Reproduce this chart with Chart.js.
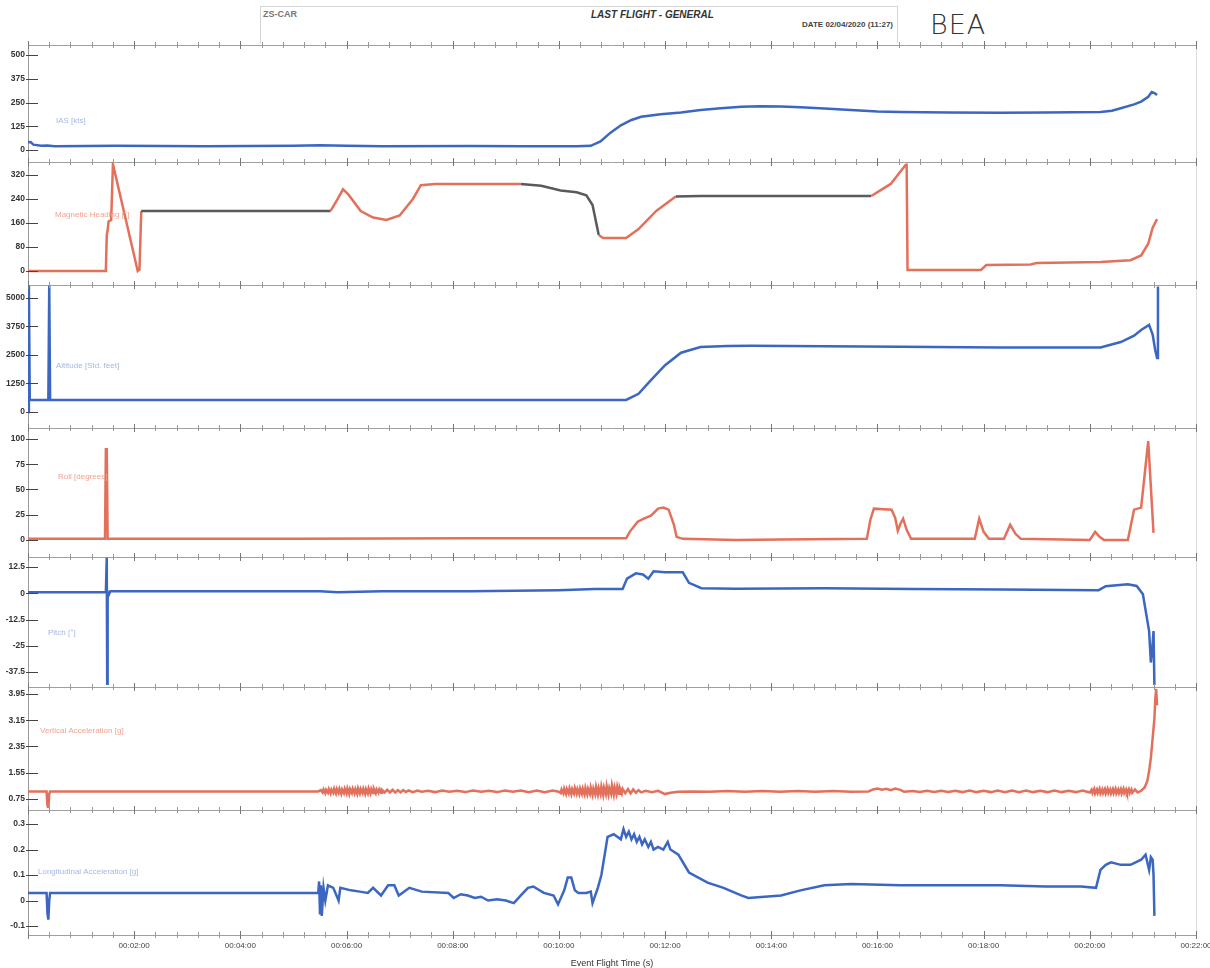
<!DOCTYPE html>
<html>
<head>
<meta charset="utf-8">
<title>ZS-CAR - Last flight - General</title>
<script src="https://cdn.jsdelivr.net/npm/chart.js@4.4.1/dist/chart.umd.min.js"></script>
<style>
  html, body { margin: 0; padding: 0; background: #fff; }
  body { width: 1210px; height: 968px; position: relative; overflow: hidden;
         font-family: 'Liberation Sans', Arial, sans-serif; }
  .panel { position: absolute; left: 0; width: 1210px; }
  .hdr { position: absolute; left: 260px; top: 6px; width: 636px; height: 36px;
         border: 1px solid #d4d4d4; border-bottom: none; }
  .hdr .reg { position: absolute; left: 2px; top: 2px; font-size: 9px; font-weight: bold; color: #777; }
  .hdr .ttl { position: absolute; left: 330px; top: 2px;
              font-size: 10px; font-weight: bold; font-style: italic; color: #333; }
  .hdr .date { position: absolute; right: 4px; top: 13px; font-size: 8px; font-weight: bold; color: #444; }
  .bea { position: absolute; left: 930px; top: 9px; font-family: 'DejaVu Sans', sans-serif;
         font-weight: 200; font-size: 27px; color: #333; letter-spacing: 1px; }
</style>
</head>
<body>

<div class="hdr">
  <div class="reg">ZS-CAR</div>
  <div class="ttl">LAST FLIGHT - GENERAL</div>
  <div class="date">DATE 02/04/2020 (11:27)</div>
</div>
<div class="bea">BEA</div>

<script>
// ── Data (time in seconds of flight, value) ──
var TIME_TICKS = [120, 240, 360, 480, 600, 720, 840, 960, 1080, 1200, 1320];

var IAS_TICKS = [0, 125, 250, 375, 500];
var HDG_TICKS = [0, 80, 160, 240, 320];
var ALT_TICKS = [0, 1250, 2500, 3750, 5000];
var ROLL_TICKS = [0, 25, 50, 75, 100];
var PITCH_TICKS = [-37.5, -25, -12.5, 0, 12.5];
var VACC_TICKS = [0.75, 1.55, 2.35, 3.15, 3.95];
var LACC_TICKS = [-0.1, 0, 0.1, 0.2, 0.3];

var IAS = [[0,40],[3,42],[6,28],[15,22],[22,24],[30,20],[100,22],[200,20],[300,22],[330,25],[360,22],[400,20],
  [500,21],[560,20],[620,20],[636,22],[647,45],[658,90],[670,130],[682,158],[693,175],[715,188],[738,197],
  [760,210],[783,220],[806,228],[828,230],[851,229],[873,225],[900,218],[930,210],[960,203],[986,200],
  [1040,197],[1099,196],[1150,197],[1212,200],[1225,207],[1235,220],[1250,240],[1258,255],[1266,280],
  [1270,305],[1273,300],[1276,290]];

var HEADING = [[0,0],[88,0],[89,120],[90,135],[91,165],[94,170],[96,356],[124,0],[126,5],[128,200],
  [342,200],[350,240],[356,272],[362,255],[376,200],[390,178],[405,170],[420,185],[435,240],[444,286],
  [460,290],[557,290],[580,284],[602,268],[620,262],[631,252],[638,220],[645,120],[650,110],[676,110],
  [690,140],[710,200],[732,248],[760,250],[953,250],[975,290],[992,354],[993,354],[994,4],[1040,4],
  [1077,4],[1083,20],[1133,22],[1140,27],[1212,30],[1246,36],[1258,52],[1266,91],[1271,144],[1276,173]];

var ALTITUDE = [[0,0],[1,5550],[2,530],[23,530],[24,5550],[25,530],[200,530],[400,530],[676,530],[690,800],
  [704,1400],[720,2050],[738,2600],[760,2850],[790,2900],[817,2910],[900,2880],[986,2860],[1099,2830],
  [1212,2830],[1235,3070],[1250,3350],[1258,3600],[1267,3820],[1271,3400],[1274,2700],[1276,2370],[1277,5500]];

var ROLL = [[0,1],[87,1],[88,90],[89,90],[90,1],[300,1],[500,1.5],[676,1.5],[680,8],[689,18],[696,21],
  [704,24],[712,31],[718,32],[724,30],[730,15],[733,3],[740,1],[800,0],[850,0.5],[948,1],[952,20],
  [956,31],[976,30],[980,22],[983,9],[986,16],[989,21],[993,10],[998,1],[1070,1],[1075,21],[1080,8],
  [1086,1],[1103,1],[1110,15],[1116,6],[1122,1],[1200,0],[1206,8],[1211,3],[1216,0],[1243,0],[1250,30],
  [1258,32],[1266,98],[1272,7]];

var PITCH = [[0,0.5],[88,0.5],[89,17],[89.5,-44],[90,0.5],[91,-1],[93,1],[200,1],[330,1],[350,0.5],
  [400,1],[500,1],[600,1.5],[640,2],[672,2],[677,7],[687,9.5],[695,9],[701,7],[707,10.5],[720,10],
  [740,10],[747,5],[761,2.4],[800,2.2],[900,2.4],[1000,2],[1100,1.8],[1210,1.5],[1218,3.4],[1243,4.3],
  [1253,3.5],[1260,-0.5],[1267,-18],[1269,-33],[1271,-24],[1272,-18],[1273,-44]];

var VERT_ACC = [[0,0.98],[21,0.98],[22,0.55],[23,0.47],[24,0.9],[25,0.98],[100,0.98],[200,0.98],[300,0.98],
  [328,0.98],[331,1.02],[333,0.95],[334,1.04],[336,0.93],[337,1.03],[339,0.94],[340,1.05],[342,0.92],
  [343,1.04],[345,0.94],[346,1.06],[348,0.92],[349,1.05],[351,0.93],[352,1.06],[354,0.91],[355,1.04],
  [357,0.93],[358,1.06],[360,0.92],[361,1.07],[363,0.91],[364,1.05],[366,0.93],[367,1.06],[369,0.92],
  [370,1.05],[372,0.91],[373,1.07],[375,0.92],[376,1.05],[378,0.93],[379,1.06],[381,0.91],[382,1.05],
  [384,0.92],[385,1.07],[387,0.92],[388,1.05],[390,0.93],[391,1.05],[393,0.93],[394,1.04],[396,0.94],
  [397,1.04],[399,0.94],[400,1.03],[403,0.95],[406,1.03],[409,0.95],[412,1.03],[415,0.95],[418,1.02],
  [421,0.95],[424,1.02],[427,0.96],[430,1.01],[435,0.96],[440,1.01],[445,0.97],[452,1.0],[460,0.96],
  [468,1.01],[476,0.97],[485,1.0],[494,0.96],[503,1.01],[512,0.97],[521,1.0],[530,0.96],[539,1.01],
  [548,0.97],[557,1.01],[566,0.96],[575,1.01],[584,0.96],[593,1.01],[600,0.97],[602,0.93],[603,1.04],
  [605,0.92],[606,1.06],[608,0.91],[609,1.05],[611,0.92],[612,1.07],[614,0.9],[615,1.05],[617,0.92],
  [618,1.08],[620,0.91],[621,1.05],[623,0.9],[624,1.07],[626,0.91],[627,1.06],[629,0.89],[630,1.09],
  [632,0.9],[633,1.06],[635,0.91],[636,1.1],[638,0.88],[639,1.07],[641,0.9],[642,1.12],[644,0.89],
  [645,1.08],[647,0.9],[648,1.13],[650,0.88],[651,1.09],[653,0.9],[654,1.14],[656,0.89],[657,1.08],
  [659,0.91],[660,1.16],[662,0.89],[663,1.1],[665,0.9],[666,1.12],[668,0.91],[669,1.07],[671,0.92],
  [672,1.06],[675,0.93],[678,1.05],[681,0.92],[684,1.04],[687,0.94],[690,1.02],[693,0.95],[698,1.0],
  [705,0.96],[712,1.0],[720,0.9],[726,0.94],[735,0.97],[750,0.98],[770,0.97],[790,0.99],[810,0.97],
  [830,0.99],[850,0.97],[870,0.99],[890,0.97],[910,0.99],[930,0.97],[950,0.98],[955,1.04],[960,1.07],
  [965,1.03],[970,1.06],[975,1.02],[980,1.07],[986,1.03],[990,0.97],[1000,0.99],[1008,0.96],[1016,1.0],
  [1024,0.96],[1032,1.0],[1040,0.96],[1048,1.0],[1056,0.96],[1064,1.01],[1072,0.96],[1080,1.0],
  [1088,0.96],[1096,1.01],[1104,0.96],[1112,1.01],[1120,0.96],[1128,1.01],[1136,0.96],[1144,1.0],
  [1152,0.96],[1160,1.01],[1168,0.96],[1176,1.0],[1184,0.96],[1192,1.01],[1200,0.95],[1202,1.03],
  [1203,0.93],[1205,1.05],[1206,0.92],[1208,1.04],[1209,0.93],[1211,1.06],[1212,0.92],[1214,1.04],
  [1215,0.93],[1217,1.05],[1218,0.92],[1220,1.06],[1221,0.93],[1223,1.04],[1224,0.92],[1226,1.05],
  [1227,0.93],[1229,1.06],[1230,0.92],[1232,1.04],[1233,0.93],[1235,1.05],[1236,0.92],[1238,1.06],
  [1239,0.93],[1241,1.04],[1242,0.94],[1244,1.05],[1245,0.93],[1247,1.04],[1248,0.94],[1251,1.04],
  [1254,0.95],[1258,1.0],[1262,1.1],[1265,1.3],[1267,1.6],[1269,2.0],[1271,2.6],[1273,3.2],[1274,3.8],
  [1275,4.1],[1276,3.6]];

var LONG_ACC = [[0,0.03],[21,0.03],[22,-0.05],[23,-0.075],[24,0.0],[25,0.03],[200,0.03],[328,0.03],
  [329,0.075],[330,-0.05],[331,0.06],[332,-0.06],[334,0.05],[336,0.0],[339,0.06],[345,0.05],[351,0.0],
  [353,0.05],[365,0.04],[375,0.035],[384,0.03],[390,0.05],[399,0.02],[407,0.06],[414,0.06],[419,0.02],
  [431,0.05],[445,0.035],[475,0.03],[481,0.01],[489,0.025],[497,0.02],[505,0.01],[512,0.015],[520,0.0],
  [530,0.005],[540,0.0],[549,-0.01],[557,0.02],[565,0.05],[571,0.055],[583,0.03],[594,0.02],[599,-0.015],
  [606,0.04],[610,0.09],[614,0.09],[618,0.04],[622,0.03],[631,0.03],[636,0.035],[638,-0.01],[644,0.05],
  [648,0.1],[655,0.25],[662,0.26],[666,0.25],[670,0.24],[673,0.28],[676,0.25],[679,0.27],[682,0.24],
  [685,0.26],[688,0.23],[691,0.25],[694,0.22],[697,0.24],[701,0.21],[704,0.23],[707,0.2],[712,0.21],
  [718,0.2],[723,0.23],[726,0.2],[735,0.18],[747,0.11],[768,0.07],[786,0.05],[806,0.02],[814,0.01],
  [851,0.02],[873,0.04],[900,0.06],[930,0.065],[986,0.06],[1040,0.06],[1099,0.06],[1150,0.055],
  [1190,0.055],[1207,0.05],[1212,0.12],[1218,0.14],[1224,0.15],[1235,0.14],[1246,0.14],[1258,0.16],
  [1263,0.18],[1267,0.12],[1269,0.17],[1271,0.16],[1272,0.1],[1273,-0.06]];

// ── Look ──
var BLUE = '#3b66c2';
var RED = '#e3705b';
var DARK = '#5a5a5a';
var FONT = "'Liberation Sans', Arial, sans-serif";

var PANELS = [
  { data: IAS, ticks: IAS_TICKS, color: BLUE, name: 'IAS [kts]', min: -53, max: 553, top: 45, bottom: 160, lx: 28, ly: 76 },
  { data: HEADING, ticks: HDG_TICKS, color: RED, name: 'Magnetic Heading [°]', min: -43, max: 363, top: 162, bottom: 284, lx: 27, ly: 53,
    dark: [[128, 342], [557, 645], [732, 953]] },
  { data: ALTITUDE, ticks: ALT_TICKS, color: BLUE, name: 'Altitude [Std. feet]', min: -614, max: 5570, top: 285, bottom: 426, lx: 28, ly: 81 },
  { data: ROLL, ticks: ROLL_TICKS, color: RED, name: 'Roll [degrees]', min: -15, max: 111, top: 428, bottom: 555, lx: 30, ly: 49 },
  { data: PITCH, ticks: PITCH_TICKS, color: BLUE, name: 'Pitch [°]', min: -43.7, max: 17.3, top: 557, bottom: 685, lx: 20, ly: 76 },
  { data: VERT_ACC, ticks: VACC_TICKS, color: RED, name: 'Vertical Acceleration [g]', min: 0.476, max: 4.16, top: 687, bottom: 808, lx: 12, ly: 44 },
  { data: LONG_ACC, ticks: LACC_TICKS, color: BLUE, name: 'Longitudinal Acceleration [g]', min: -0.135, max: 0.355, top: 810, bottom: 935, lx: 10, ly: 62 }
];

function fmtTime(s) {
  var m = Math.floor(s / 60), r = s % 60;
  return '00:' + (m < 10 ? '0' : '') + m + ':' + (r < 10 ? '0' : '') + r;
}

// series name written faintly inside the plot, right frame line,
// and the small cross-shaped tick marks of the scanned chart
var panelDecor = {
  id: 'panelDecor',
  afterDatasetsDraw: function(chart, args, opts) {
    var a = chart.chartArea, c = chart.ctx;
    c.save();
    c.lineWidth = 1;
    c.strokeStyle = '#dcdcdc';
    c.beginPath();
    c.moveTo(a.right + 0.5, a.top);
    c.lineTo(a.right + 0.5, a.bottom);
    c.stroke();

    // y tick dashes crossing the axis
    var ys = chart.scales.y;
    c.strokeStyle = '#444';
    ys.ticks.forEach(function(t) {
      var py = Math.round(ys.getPixelForValue(t.value)) + 0.5;
      c.beginPath();
      c.moveTo(a.left - 2, py);
      c.lineTo(a.left + 10, py);
      c.stroke();
    });

    // x tick crosses along the top (and bottom) rows
    ['x', 'x2'].forEach(function(id) {
      var xs = chart.scales[id];
      if (!xs) return;
      var row = id === 'x' ? a.top : a.bottom;
      xs.ticks.forEach(function(t) {
        var px = Math.round(xs.getPixelForValue(t.value)) + 0.5;
        var major = t.value % 120 === 0;
        c.strokeStyle = major ? '#777' : '#999';
        c.beginPath();
        c.moveTo(px, row - (major ? 4 : 3));
        c.lineTo(px, row + (major ? 4 : 3));
        c.stroke();
      });
    });

    c.font = '8px ' + FONT;
    c.fillStyle = opts.color;
    c.textBaseline = 'middle';
    c.fillText(opts.text, a.left + opts.x, a.top + opts.y);
    c.restore();
  }
};

PANELS.forEach(function(p, i) {
  var last = i === PANELS.length - 1;
  var bottomAxis = last ? 34 : 0;
  var div = document.createElement('div');
  div.className = 'panel';
  div.style.top = (p.top - 4) + 'px';
  div.style.height = (p.bottom - p.top + 4 + bottomAxis) + 'px';
  var cv = document.createElement('canvas');
  div.appendChild(cv);
  document.body.appendChild(div);

  var scales = {
    x: {
      type: 'linear', position: 'top', min: 0, max: 1320,
      ticks: { display: false, stepSize: 24 },
      grid: { drawOnChartArea: false, drawTicks: false },
      border: { color: '#a0a0a0' },
      afterFit: function(s) { s.height = 4; s.paddingLeft = 0; s.paddingRight = 0; }
    },
    y: {
      position: 'left', min: p.min, max: p.max,
      afterBuildTicks: function(s) { s.ticks = p.ticks.map(function(v) { return { value: v }; }); },
      ticks: { color: '#333', padding: 3, font: { family: FONT, size: 8.5, weight: 'bold' },
               callback: function(v) { return String(v); } },
      grid: { drawOnChartArea: false, drawTicks: false },
      border: { color: '#999', dash: [2, 2] },
      afterFit: function(s) { s.width = 28; s.paddingTop = 0; s.paddingBottom = 0; }
    }
  };
  if (last) {
    scales.x2 = {
      type: 'linear', position: 'bottom', min: 0, max: 1320,
      ticks: {
        stepSize: 24, autoSkip: false, maxRotation: 0, padding: 6,
        color: '#444', font: { family: FONT, size: 8 },
        callback: function(v) { return TIME_TICKS.indexOf(v) >= 0 ? fmtTime(v) : ''; }
      },
      grid: { drawOnChartArea: false, drawTicks: false },
      border: { color: '#a0a0a0' },
      title: { display: true, text: 'Event Flight Time (s)', color: '#333', padding: { top: 2, bottom: 0 },
               font: { family: FONT, size: 9 } },
      afterFit: function(s) { s.height = bottomAxis; s.paddingLeft = 0; s.paddingRight = 0; }
    };
  }

  var ds = {
    data: p.data.map(function(d) { return { x: d[0], y: d[1] }; }),
    borderColor: p.color, borderWidth: 2.5, pointRadius: 0, tension: 0,
    xAxisID: 'x', yAxisID: 'y'
  };
  if (p.dark) {
    ds.segment = {
      borderColor: function(ctx) {
        var t = ctx.p0.parsed.x;
        for (var k = 0; k < p.dark.length; k++) {
          if (t >= p.dark[k][0] && t < p.dark[k][1]) return DARK;
        }
        return p.color;
      }
    };
  }

  new Chart(cv.getContext('2d'), {
    type: 'line',
    data: { datasets: [ds] },
    options: {
      responsive: true, maintainAspectRatio: false, animation: false,
      layout: { padding: { left: 0, right: 14, top: 0, bottom: 0 } },
      plugins: {
        legend: { display: false }, tooltip: { enabled: false },
        panelDecor: { text: p.name, x: p.lx, y: p.ly, color: p.color === BLUE ? '#a3b8e2' : '#f0a493' }
      },
      scales: scales
    },
    plugins: [panelDecor]
  });
});
</script>
</body>
</html>
